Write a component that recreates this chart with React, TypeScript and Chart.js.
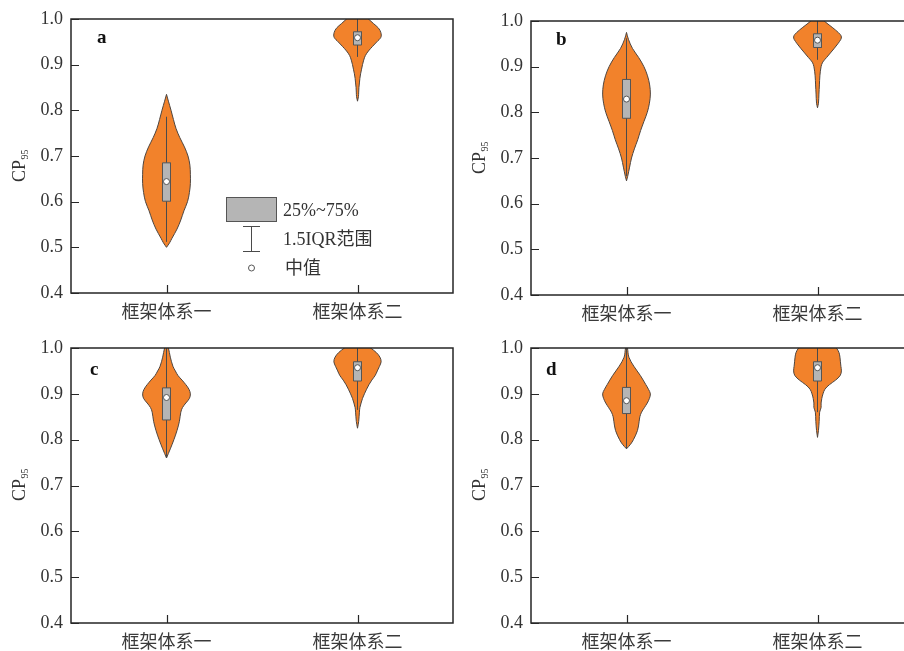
import React, { useEffect, useRef } from 'react';
import { Chart, registerables } from 'chart.js';

Chart.register(...registerables);

// ---------- data ----------
const categories = ['框架体系一', '框架体系二'];
const yTicks = [0.4, 0.5, 0.6, 0.7, 0.8, 0.9, 1.0];
const legendLabels = ['25%~75%', '1.5IQR范围', '中值'];

// Each violin: CP95 levels, relative kernel density at each level (peak = 1),
// and box statistics [lower whisker, Q1, median, Q3, upper whisker].

// panel a
const aLevels1 = [0.5, 0.51, 0.52, 0.54, 0.56, 0.58, 0.6, 0.62, 0.64, 0.66, 0.68, 0.7, 0.72, 0.74, 0.76, 0.78, 0.8, 0.82, 0.835];
const aDensity1 = [0, 0.13, 0.23, 0.44, 0.6, 0.73, 0.88, 0.96, 1.0, 1.0, 0.98, 0.9, 0.75, 0.56, 0.4, 0.29, 0.19, 0.08, 0];
const aStats1 = [0.512, 0.601, 0.644, 0.685, 0.786];
const aLevels2 = [0.82, 0.83, 0.84, 0.85, 0.86, 0.87, 0.88, 0.89, 0.9, 0.91, 0.92, 0.93, 0.94, 0.95, 0.96, 0.97, 0.98, 0.99, 1.0, 1.01, 1.02];
const aDensity2 = [0, 0.04, 0.05, 0.06, 0.08, 0.1, 0.13, 0.17, 0.21, 0.26, 0.33, 0.46, 0.63, 0.81, 0.98, 0.98, 0.88, 0.67, 0.46, 0.25, 0];
const aStats2 = [0.917, 0.943, 0.959, 0.972, 1.0];

// panel b
const bLevels1 = [0.65, 0.66, 0.68, 0.7, 0.72, 0.74, 0.76, 0.78, 0.8, 0.82, 0.84, 0.86, 0.88, 0.9, 0.92, 0.94, 0.96, 0.975];
const bDensity1 = [0, 0.05, 0.13, 0.21, 0.33, 0.47, 0.59, 0.73, 0.87, 0.96, 1.0, 0.97, 0.88, 0.73, 0.51, 0.25, 0.08, 0];
const bStats1 = [0.66, 0.787, 0.829, 0.872, 0.962];
const bLevels2 = [0.81, 0.82, 0.84, 0.86, 0.88, 0.9, 0.91, 0.92, 0.93, 0.94, 0.95, 0.96, 0.965, 0.97, 0.98, 0.99, 1.0, 1.01, 1.015];
const bDensity2 = [0, 0.04, 0.06, 0.08, 0.1, 0.15, 0.22, 0.38, 0.54, 0.7, 0.85, 0.98, 1.0, 0.96, 0.76, 0.52, 0.28, 0.08, 0];
const bStats2 = [0.915, 0.942, 0.958, 0.972, 1.0];

// panel c
const cLevels1 = [0.76, 0.77, 0.78, 0.8, 0.82, 0.84, 0.86, 0.87, 0.88, 0.89, 0.9, 0.91, 0.92, 0.93, 0.94, 0.95, 0.96, 0.98, 1.0, 1.01];
const cDensity1 = [0, 0.08, 0.16, 0.31, 0.44, 0.54, 0.6, 0.67, 0.81, 0.96, 1.0, 0.94, 0.81, 0.65, 0.48, 0.37, 0.27, 0.16, 0.08, 0];
const cStats1 = [0.76, 0.843, 0.892, 0.913, 1.0];
const cLevels2 = [0.825, 0.84, 0.86, 0.87, 0.88, 0.89, 0.9, 0.91, 0.92, 0.93, 0.94, 0.95, 0.96, 0.97, 0.98, 0.99, 1.0, 1.01, 1.02];
const cDensity2 = [0, 0.05, 0.08, 0.1, 0.15, 0.21, 0.29, 0.38, 0.48, 0.6, 0.74, 0.83, 0.92, 0.99, 0.94, 0.79, 0.55, 0.29, 0];
const cStats2 = [0.865, 0.928, 0.957, 0.97, 1.0];

// panel d
const dLevels1 = [0.78, 0.79, 0.8, 0.82, 0.84, 0.85, 0.86, 0.87, 0.88, 0.89, 0.9, 0.91, 0.92, 0.94, 0.96, 0.98, 1.0, 1.005];
const dDensity1 = [0, 0.17, 0.29, 0.46, 0.53, 0.56, 0.63, 0.75, 0.87, 0.96, 1.0, 0.92, 0.81, 0.58, 0.31, 0.1, 0.04, 0];
const dStats1 = [0.78, 0.857, 0.885, 0.914, 1.0];
const dLevels2 = [0.805, 0.82, 0.84, 0.86, 0.87, 0.88, 0.89, 0.9, 0.91, 0.92, 0.93, 0.94, 0.95, 0.96, 0.97, 0.98, 0.99, 1.0, 1.01, 1.02, 1.03];
const dDensity2 = [0, 0.04, 0.07, 0.09, 0.15, 0.15, 0.18, 0.23, 0.31, 0.5, 0.76, 0.95, 1.0, 0.98, 0.96, 0.94, 0.9, 0.79, 0.58, 0.29, 0];
const dStats2 = [0.86, 0.928, 0.957, 0.97, 1.0];

// ---------- styling ----------
const ORANGE = '#F2822B';
const OUTLINE = '#4d4540';
const BOX_FILL = '#b5b5b5';
const DARK = '#4a4a4a';
const AXIS = '#262626';
const TEXT = '#333333';
const SERIF = '"Liberation Serif", "Times New Roman", serif';
const CJK = '"Noto Sans CJK SC", sans-serif';
const MIXED = '"Liberation Serif", "Noto Sans CJK SC", serif';
const VIOLIN_HALF = 0.125; // half width of the widest part, in category units
const BOX_HALF = 0.021;

type Group = { levels: number[]; density: number[]; stats: number[] };
type Panel = {
  id: string;
  groups: Group[];
  legend: boolean;
  left: number;
  top: number;
  width: number;
  height: number;
  letterDx: number;
  letterDy: number;
  titleDy: number;
};

const panels: Panel[] = [
  {
    id: 'a',
    groups: [
      { levels: aLevels1, density: aDensity1, stats: aStats1 },
      { levels: aLevels2, density: aDensity2, stats: aStats2 },
    ],
    legend: true,
    left: 0, top: 0, width: 460, height: 330,
    letterDx: 26, letterDy: 24, titleDy: 147,
  },
  {
    id: 'b',
    groups: [
      { levels: bLevels1, density: bDensity1, stats: bStats1 },
      { levels: bLevels2, density: bDensity2, stats: bStats2 },
    ],
    legend: false,
    left: 460, top: 2, width: 460, height: 330,
    letterDx: 25, letterDy: 24, titleDy: 137,
  },
  {
    id: 'c',
    groups: [
      { levels: cLevels1, density: cDensity1, stats: cStats1 },
      { levels: cLevels2, density: cDensity2, stats: cStats2 },
    ],
    legend: false,
    left: 0, top: 329, width: 460, height: 331,
    letterDx: 19, letterDy: 27, titleDy: 137,
  },
  {
    id: 'd',
    groups: [
      { levels: dLevels1, density: dDensity1, stats: dStats1 },
      { levels: dLevels2, density: dDensity2, stats: dStats2 },
    ],
    legend: false,
    left: 460, top: 329, width: 460, height: 331,
    letterDx: 15, letterDy: 27, titleDy: 137,
  },
];

function buildDatasets(groups: Group[]) {
  const ds: any[] = [];
  groups.forEach((g, i) => {
    const c = i + 0.5;
    const leftSide = g.levels.map((y, k) => ({ x: c - g.density[k] * VIOLIN_HALF, y }));
    const rightSide = g.levels.map((y, k) => ({ x: c + g.density[k] * VIOLIN_HALF, y })).reverse();
    ds.push({
      data: [...leftSide, ...rightSide],
      fill: 'shape',
      backgroundColor: ORANGE,
      borderColor: OUTLINE,
      borderWidth: 1,
      tension: 0.35,
      capBezierPoints: false,
      pointRadius: 0,
      order: 4,
    });
    const [lo, q1, med, q3, hi] = g.stats;
    ds.push({
      data: [{ x: c, y: lo }, { x: c, y: hi }],
      borderColor: DARK,
      borderWidth: 1,
      pointRadius: 0,
      fill: false,
      order: 3,
    });
    ds.push({
      data: [
        { x: c - BOX_HALF, y: q1 },
        { x: c - BOX_HALF, y: q3 },
        { x: c + BOX_HALF, y: q3 },
        { x: c + BOX_HALF, y: q1 },
        { x: c - BOX_HALF, y: q1 },
      ],
      fill: 'shape',
      backgroundColor: BOX_FILL,
      borderColor: '#555555',
      borderWidth: 1,
      tension: 0,
      pointRadius: 0,
      order: 2,
    });
    ds.push({
      data: [{ x: c, y: med }],
      showLine: false,
      pointRadius: 3,
      pointBackgroundColor: '#ffffff',
      pointBorderColor: '#555555',
      pointBorderWidth: 1,
      order: 1,
    });
  });
  return ds;
}

function decorPlugin(panel: Panel) {
  return {
    id: 'panelDecor',
    afterDatasetsDraw(chart: any) {
      const { ctx, chartArea: a, scales } = chart;
      const x = scales.x;
      const y = scales.y;
      ctx.save();
      // frame
      ctx.strokeStyle = AXIS;
      ctx.lineWidth = 1.5;
      ctx.strokeRect(a.left, a.top, a.right - a.left, a.bottom - a.top);
      // inward tick marks
      ctx.lineWidth = 1.2;
      ctx.beginPath();
      yTicks.forEach((v) => {
        const py = Math.round(y.getPixelForValue(v)) + 0.5;
        ctx.moveTo(a.left, py);
        ctx.lineTo(a.left + 8, py);
      });
      categories.forEach((_, i) => {
        const px = Math.round(x.getPixelForValue(i + 0.5)) + 0.5;
        ctx.moveTo(px, a.bottom);
        ctx.lineTo(px, a.bottom - 8);
      });
      ctx.stroke();

      // panel letter
      ctx.fillStyle = '#111111';
      ctx.font = `bold 19px ${SERIF}`;
      ctx.textAlign = 'left';
      ctx.textBaseline = 'alphabetic';
      ctx.fillText(panel.id, a.left + panel.letterDx, a.top + panel.letterDy);

      // y axis title: CP with subscript 95
      ctx.save();
      ctx.translate(a.left - 52, a.top + panel.titleDy);
      ctx.rotate(-Math.PI / 2);
      ctx.fillStyle = TEXT;
      ctx.font = `18px ${SERIF}`;
      const wMain = ctx.measureText('CP').width;
      ctx.font = `10px ${SERIF}`;
      const wSub = ctx.measureText('95').width;
      const start = -(wMain + wSub) / 2;
      ctx.font = `18px ${SERIF}`;
      ctx.fillText('CP', start, 6);
      ctx.font = `10px ${SERIF}`;
      ctx.fillText('95', start + wMain + 0.5, 9);
      ctx.restore();

      if (panel.legend) {
        const L = a.left;
        const T = a.top;
        ctx.fillStyle = BOX_FILL;
        ctx.fillRect(L + 155, T + 178, 50, 24);
        ctx.strokeStyle = '#555555';
        ctx.lineWidth = 1;
        ctx.strokeRect(L + 155.5, T + 178.5, 50, 24);
        ctx.strokeStyle = DARK;
        ctx.beginPath();
        ctx.moveTo(L + 180.5, T + 207);
        ctx.lineTo(L + 180.5, T + 232);
        ctx.moveTo(L + 172, T + 207.5);
        ctx.lineTo(L + 189, T + 207.5);
        ctx.moveTo(L + 172, T + 232.5);
        ctx.lineTo(L + 189, T + 232.5);
        ctx.stroke();
        ctx.beginPath();
        ctx.arc(L + 180.5, T + 249, 3, 0, Math.PI * 2);
        ctx.fillStyle = '#ffffff';
        ctx.fill();
        ctx.strokeStyle = '#555555';
        ctx.stroke();
        ctx.fillStyle = TEXT;
        ctx.font = `18px ${MIXED}`;
        ctx.textBaseline = 'middle';
        ctx.fillText(legendLabels[0], L + 212, T + 192);
        ctx.fillText(legendLabels[1], L + 212, T + 221);
        ctx.fillText(legendLabels[2], L + 214, T + 250);
      }
      ctx.restore();
    },
  };
}

function ViolinPanel({ panel }: { panel: Panel }) {
  const ref = useRef<HTMLCanvasElement | null>(null);
  useEffect(() => {
    if (!ref.current) return;
    const chart = new Chart(ref.current, {
      type: 'line',
      data: { datasets: buildDatasets(panel.groups) },
      options: {
        responsive: false,
        animation: false,
        events: [],
        layout: { padding: { top: 19, right: 7, left: 0, bottom: 0 } },
        plugins: { legend: { display: false }, tooltip: { enabled: false }, title: { display: false } },
        scales: {
          x: {
            type: 'linear',
            min: 0,
            max: categories.length,
            grid: { display: false, drawTicks: false },
            border: { display: false },
            afterBuildTicks: (s: any) => {
              s.ticks = categories.map((_, i) => ({ value: i + 0.5 }));
            },
            afterFit: (s: any) => {
              s.height = 37;
            },
            ticks: {
              padding: 7,
              color: '#3a3a3a',
              autoSkip: false,
              maxRotation: 0,
              font: { family: CJK, size: 18 },
              callback: (_v: any, i: number) => categories[i],
            },
          },
          y: {
            type: 'linear',
            min: yTicks[0],
            max: yTicks[yTicks.length - 1],
            grid: { display: false, drawTicks: false },
            border: { display: false },
            afterBuildTicks: (s: any) => {
              s.ticks = yTicks.map((v) => ({ value: v }));
            },
            afterFit: (s: any) => {
              s.width = 71;
            },
            ticks: {
              padding: 8,
              color: TEXT,
              font: { family: SERIF, size: 18 },
              callback: (v: any) => Number(v).toFixed(1),
            },
          },
        },
      } as any,
      plugins: [decorPlugin(panel)],
    });
    return () => chart.destroy();
  }, [panel]);
  return (
    <canvas
      ref={ref}
      width={panel.width}
      height={panel.height}
      style={{
        position: 'absolute',
        left: panel.left,
        top: panel.top,
        width: panel.width,
        height: panel.height,
      }}
    />
  );
}

export default function App() {
  return (
    <div
      style={{
        position: 'fixed',
        left: 0,
        top: 0,
        width: 904,
        height: 651,
        overflow: 'hidden',
        background: '#ffffff',
      }}
    >
      {panels.map((p) => (
        <ViolinPanel key={p.id} panel={p} />
      ))}
    </div>
  );
}
